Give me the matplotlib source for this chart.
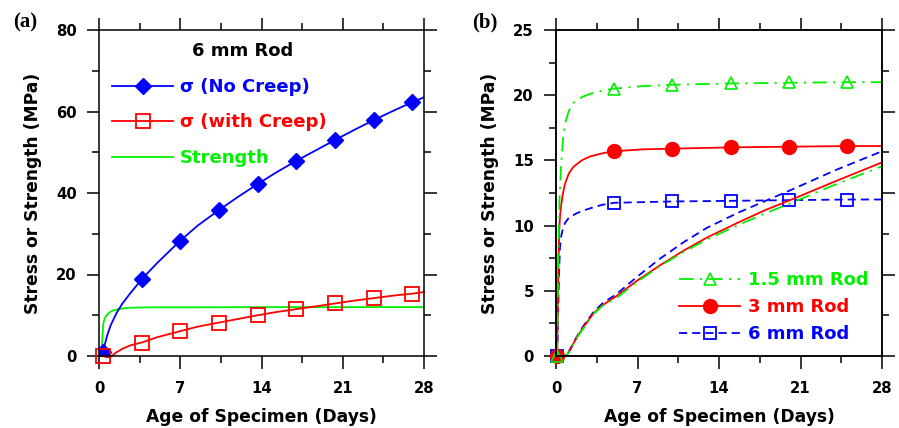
import matplotlib
matplotlib.use('Agg')
import matplotlib.pyplot as plt
from matplotlib.ticker import MultipleLocator
import numpy as np

# ---- panel (a): 6 mm rod ----
days_nc = [0.33, 0.5, 0.7, 1.0, 1.5, 2.0, 2.67, 3.67, 5.0, 7.0, 8.5, 10.33, 12.0,
           13.67, 15.3, 17.0, 18.7, 20.33, 22.0, 23.67, 25.3, 27.0, 28.0]
no_creep = [1.0, 2.8, 5.0, 7.5, 10.5, 12.8, 15.3, 18.8, 22.8, 28.3, 32.0, 35.8, 39.1,
            42.2, 45.1, 47.9, 50.5, 53.0, 55.5, 57.9, 60.1, 62.3, 63.5]
days_wc = [0.33, 0.7, 1.0, 1.5, 2.1, 2.8, 3.67, 5.0, 7.0, 8.5, 10.33, 12.0, 13.67,
           15.3, 17.0, 18.7, 20.33, 22.0, 23.67, 25.3, 27.0, 28.0]
with_creep = [0.0, -0.3, -0.2, 0.9, 1.9, 2.7, 3.3, 4.6, 6.1, 7.2, 8.2, 9.1, 10.0,
              10.8, 11.5, 12.2, 12.9, 13.6, 14.2, 14.8, 15.3, 15.7]
days_str = [0.2, 0.25, 0.3, 0.37, 0.5, 0.66, 0.9, 1.23, 1.7, 2.38, 3.5, 5.0, 8.7, 14.0, 20.0, 28.0]
strength = [0.0, 2.0, 5.0, 8.0, 9.3, 10.0, 10.7, 11.2, 11.5, 11.8, 11.9, 11.95, 11.95, 12.0, 12.0, 12.0]

mark_days_a = [0.33, 3.67, 7.0, 10.33, 13.67, 17.0, 20.33, 23.67, 27.0]
no_creep_marks = [1.0, 18.8, 28.3, 35.8, 42.2, 47.9, 53.0, 57.9, 62.3]
with_creep_marks = [0.0, 3.3, 6.1, 8.2, 10.0, 11.5, 12.9, 14.2, 15.3]

# ---- panel (b): strength and stress for three rod sizes ----
days_g = [0.1, 0.15, 0.2, 0.3, 0.45, 0.6, 0.77, 1.1, 1.49, 2.2, 2.92, 4.0, 5.0, 7.5,
          10.0, 15.0, 20.0, 25.0, 28.0]
str_15 = [0.0, 4.0, 8.0, 12.0, 14.8, 16.6, 17.8, 18.8, 19.4, 19.85, 20.1, 20.35, 20.5,
          20.7, 20.8, 20.9, 20.95, 21.0, 21.0]
days_r = [0.1, 0.15, 0.2, 0.27, 0.35, 0.45, 0.6, 0.77, 1.1, 1.49, 2.2, 2.92, 4.0, 5.0,
          7.5, 10.0, 15.0, 20.0, 25.0, 28.0]
str_3 = [0.0, 3.0, 6.5, 9.5, 10.8, 11.6, 12.5, 13.2, 14.0, 14.5, 15.0, 15.3, 15.55, 15.7,
         15.85, 15.9, 16.0, 16.05, 16.1, 16.1]
days_b = [0.1, 0.15, 0.2, 0.27, 0.34, 0.45, 0.6, 0.77, 1.1, 1.78, 2.5, 3.2, 4.0, 5.0,
          7.5, 10.0, 15.0, 20.0, 25.0, 28.0]
str_6 = [0.0, 2.0, 4.0, 6.5, 8.3, 9.2, 9.8, 10.2, 10.6, 10.95, 11.2, 11.4, 11.6, 11.75,
         11.8, 11.85, 11.9, 11.95, 12.0, 12.0]

days_s = [0.1, 0.5, 0.92, 1.2, 1.49, 1.9, 2.35, 3.2, 4.0, 5.2, 7.0, 8.94, 11.0, 13.0,
          15.8, 18.0, 20.1, 24.0, 28.0]
stress_15 = [0, 0, 0.05, 0.45, 0.9, 1.55, 2.1, 3.2, 3.85, 4.45, 5.7, 6.9, 8.0, 8.95,
             10.1, 10.95, 11.7, 13.15, 14.55]
stress_3 = [0, 0, 0.05, 0.45, 0.95, 1.6, 2.2, 3.25, 3.9, 4.6, 5.8, 6.96, 8.1, 9.1,
            10.3, 11.2, 11.95, 13.4, 14.85]
stress_6 = [0, 0, 0.05, 0.5, 1.0, 1.65, 2.3, 3.35, 4.05, 4.75, 6.1, 7.47, 8.75, 9.85,
            11.05, 11.9, 12.7, 14.25, 15.7]

mark_days_b = [0.1, 5, 10, 15, 20, 25]
marks_15 = [0.0, 20.5, 20.8, 20.9, 21.0, 21.0]
marks_3 = [0.0, 15.7, 15.9, 16.0, 16.05, 16.1]
marks_6 = [0.0, 11.75, 11.85, 11.9, 11.95, 12.0]

xticks = [0, 7, 14, 21, 28]
GREEN = '#00f000'
BLUE = '#0000ff'
RED = '#ff0000'

plt.rcParams['font.family'] = ['DejaVu Sans']
plt.rcParams['font.weight'] = 'bold'

fig = plt.figure(figsize=(8.99, 4.28), dpi=100)
ax1 = fig.add_axes([99/899, 72/428, 325/899, 326/428])
ax2 = fig.add_axes([556/899, 72/428, 326/899, 326/428])


def style_axes(ax, ymax, ymajor, right=True):
    ax.set_xlim(0, 28)
    ax.set_ylim(0, ymax)
    ax.set_xticks(xticks)
    ax.xaxis.set_minor_locator(MultipleLocator(3.5))
    ax.yaxis.set_major_locator(MultipleLocator(ymajor))
    ax.yaxis.set_minor_locator(MultipleLocator(ymajor / 2))
    ax.tick_params(which='both', direction='out', top=True, right=right,
                   width=1.1, labelsize=10.7)
    ax.tick_params(axis='x', pad=9)
    ax.tick_params(axis='y', pad=7)
    ax.tick_params(which='major', length=9)
    ax.tick_params(which='minor', length=5)
    for s in ax.spines.values():
        s.set_linewidth(1.1)
    ax.set_xlabel('Age of Specimen (Days)', fontsize=12.3, fontweight='bold', labelpad=9)
    ax.set_ylabel('Stress or Strength (MPa)', fontsize=12.3, fontweight='bold', labelpad=10)


# ---- panel (a) ----
style_axes(ax1, 80, 20)
g_line, = ax1.plot(days_str, strength, color=GREEN, lw=1.3)
b_line, = ax1.plot(days_nc, no_creep, color=BLUE, lw=1.3)
b_mark, = ax1.plot(mark_days_a, no_creep_marks, ls='none', marker='D', ms=8.5, color=BLUE)
r_line, = ax1.plot(days_wc, with_creep, color=RED, lw=1.3, clip_on=False)
r_mark, = ax1.plot(mark_days_a, with_creep_marks, ls='none', marker='s', ms=9.5,
                   mfc='none', mec=RED, mew=1.3, clip_on=False)
ax1.text(0.443, 0.936, '6 mm Rod', transform=ax1.transAxes, ha='center', va='center',
         fontsize=13, fontweight='bold')
leg1 = ax1.legend([(b_line, b_mark), (r_line, r_mark), g_line],
                  ['σ (No Creep)', 'σ (with Creep)', 'Strength'],
                  loc='upper left', bbox_to_anchor=(0.04, 0.853), frameon=False,
                  borderpad=0, borderaxespad=0, handlelength=3.4, handletextpad=0.35,
                  labelspacing=0.97, prop={'size': 13, 'weight': 'bold'},
                  labelcolor=[BLUE, RED, GREEN])
fig.text(13/899, 1 - 22/428, '(a)', family='Liberation Serif', fontweight='bold',
         fontsize=15, va='center', ha='left')

# ---- panel (b) ----
style_axes(ax2, 25, 5, right=False)
ax2b = ax2.twinx()
ax2b.set_ylim(0, 80)
ax2b.yaxis.set_major_locator(MultipleLocator(20))
ax2b.yaxis.set_minor_locator(MultipleLocator(10))
ax2b.tick_params(which='both', direction='out', width=1.1, labelright=False)
ax2b.tick_params(which='major', length=9)
ax2b.tick_params(which='minor', length=5)
for s in ax2b.spines.values():
    s.set_linewidth(1.1)

dash6 = (0, (4.5, 2.8))
dashdot = (0, (8, 3.5, 1.2, 3.5))
ax2.plot(days_b, str_6, color=BLUE, lw=1.3, ls=dash6)
ax2.plot(days_s, stress_6, color=BLUE, lw=1.3, ls=dash6)
m6, = ax2.plot(mark_days_b, marks_6, ls='none', marker='s', ms=9, mfc='none',
               mec=BLUE, mew=1.3, clip_on=False)
ax2.plot(days_r, str_3, color=RED, lw=1.3)
ax2.plot(days_s, stress_3, color=RED, lw=1.3)
m3, = ax2.plot(mark_days_b, marks_3, ls='none', marker='o', ms=10, color=RED, clip_on=False)
ax2.plot(days_g, str_15, color=GREEN, lw=1.3, ls=dashdot)
ax2.plot(days_s, stress_15, color=GREEN, lw=1.3, ls=dashdot)
m15, = ax2.plot(mark_days_b, marks_15, ls='none', marker='^', ms=8, mfc='none',
                mec=GREEN, mew=1.2, clip_on=False)

h15 = plt.Line2D([], [], color=GREEN, lw=1.3, ls=dashdot)
h3 = plt.Line2D([], [], color=RED, lw=1.3)
h6 = plt.Line2D([], [], color=BLUE, lw=1.3, ls=dash6)
ax2.legend([(h15, m15), (h3, m3), (h6, m6)], ['1.5 mm Rod', '3 mm Rod', '6 mm Rod'],
           loc='upper left', bbox_to_anchor=(0.377, 0.261), frameon=False,
           borderpad=0, borderaxespad=0, handlelength=3.4, handletextpad=0.45,
           labelspacing=0.5, prop={'size': 13, 'weight': 'bold'},
           labelcolor=[GREEN, RED, BLUE])
fig.text(472/899, 1 - 22/428, '(b)', family='Liberation Serif', fontweight='bold',
         fontsize=15, va='center', ha='left')

fig.savefig('out.png', dpi=100)
